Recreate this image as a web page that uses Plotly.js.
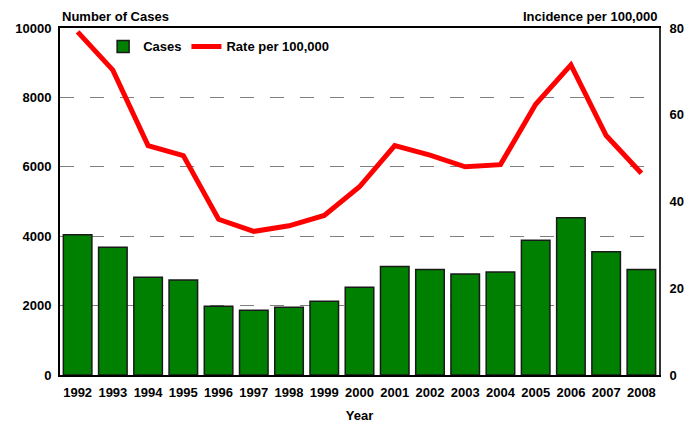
<!DOCTYPE html>
<html>
<head>
<meta charset="utf-8">
<script src="https://cdn.plot.ly/plotly-3.0.1.min.js"></script>
<style>
  body { margin: 0; background: #fff; }
  #chart { width: 690px; height: 425px; }
</style>
</head>
<body>
<div id="chart"></div>
<script>
// years on the x axis
var years = ["1992", "1993", "1994", "1995", "1996", "1997", "1998", "1999", "2000",
  "2001", "2002", "2003", "2004", "2005", "2006", "2007", "2008"];

// number of cases (left axis)
var cases = [4040, 3680, 2815, 2740, 1980, 1865, 1950, 2125, 2530,
  3130, 3040, 2910, 2970, 3880, 4535, 3555, 3040];

// incidence per 100,000 (right axis)
var rates = [79.1, 70.3, 52.9, 50.6, 35.9, 33.1, 34.4, 36.8, 43.4,
  52.9, 50.7, 48.0, 48.5, 62.4, 71.5, 55.2, 46.5];

var font = {family: "Liberation Sans, Arial, sans-serif", size: 13, color: "#000"};

var trace1 = {
  x: years,
  y: cases,
  name: "Cases",
  type: "bar",
  marker: {color: "#008000", line: {color: "#1a1a1a", width: 1.5}}
};

var trace2 = {
  x: years,
  y: rates,
  name: "Rate per 100,000",
  type: "scatter",
  mode: "lines",
  yaxis: "y2",
  line: {color: "#ff0000", width: 5}
};

var data = [trace1, trace2];

var layout = {
  width: 690,
  height: 425,
  margin: {l: 60, r: 31, t: 28, b: 50},
  paper_bgcolor: "#fff",
  plot_bgcolor: "#fff",
  font: font,
  showlegend: true,
  legend: {
    orientation: "h",
    x: 0.072, y: 0.99,
    xanchor: "left", yanchor: "top",
    bgcolor: "rgba(0,0,0,0)",
    font: {family: font.family, size: 13, color: "#000", weight: "bold"},
    itemwidth: 30,
    tracegroupgap: 0
  },
  bargap: 0.19,
  xaxis: {
    type: "category",
    showline: true, linecolor: "#000", linewidth: 2,
    mirror: true,
    showgrid: false,
    ticks: "",
    tickfont: {family: font.family, size: 13, weight: "bold"},
    ticklabelstandoff: 4,
    title: {text: "Year", font: {family: font.family, size: 13, weight: "bold"}, standoff: 12}
  },
  yaxis: {
    range: [0, 10000],
    dtick: 2000,
    showline: true, linecolor: "#000", linewidth: 2,
    showgrid: true, gridcolor: "#808080", griddash: "14px,16px", gridwidth: 1,
    zeroline: false,
    ticks: "",
    tickformat: "d",
    tickfont: {family: font.family, size: 13, weight: "bold"},
    ticklabelstandoff: 4
  },
  yaxis2: {
    range: [0, 80],
    dtick: 20,
    overlaying: "y",
    side: "right",
    showline: true, linecolor: "#333", linewidth: 2,
    showgrid: false,
    zeroline: false,
    ticks: "",
    tickfont: {family: font.family, size: 13, weight: "bold"},
    ticklabelstandoff: 6
  },
  annotations: [
    {text: "Number of Cases", xref: "paper", yref: "paper", x: 0, y: 1,
      xanchor: "left", yanchor: "bottom", yshift: 2, showarrow: false,
      font: {family: font.family, size: 13, weight: "bold"}},
    {text: "Incidence per 100,000", xref: "paper", yref: "paper", x: 1, y: 1,
      xanchor: "right", yanchor: "bottom", yshift: 2, showarrow: false,
      font: {family: font.family, size: 13, weight: "bold"}}
  ]
};

Plotly.newPlot("chart", data, layout, {displayModeBar: false, staticPlot: true});
</script>
</body>
</html>
